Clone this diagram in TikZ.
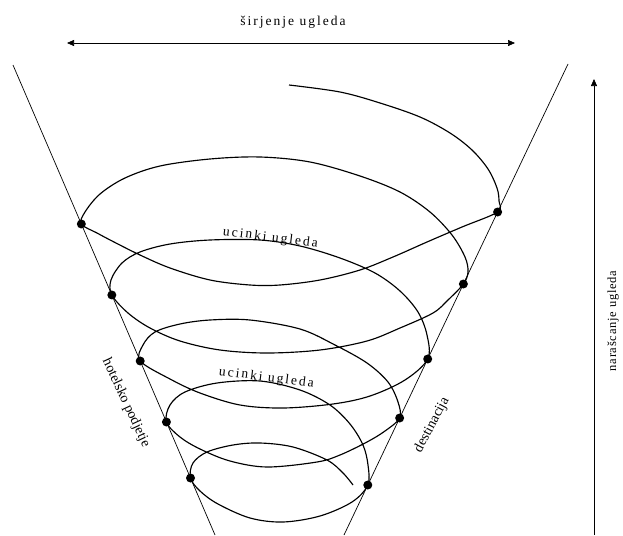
\documentclass[tikz,border=0pt]{standalone}
\usepackage{fontspec}
\setmainfont{Liberation Serif}
\newfontfamily\razfont[LetterSpace=15]{Liberation Serif}
\newfontfamily\rastfont[LetterSpace=6]{Liberation Serif}
\usetikzlibrary{arrows.meta,calc}

\begin{document}
\begin{tikzpicture}[x=1pt,y=-1pt,>={Triangle[length=7pt,width=6pt]}]
    \useasboundingbox (0,0) rectangle (623,535);
    % stozec
    \coordinate (LT) at (13,65);
    \coordinate (LB) at (215,535);
    \coordinate (RT) at (568,64);
    \coordinate (RB) at (344,535);
    \draw[line width=0.7pt] (LT) -- (LB);
    \draw[line width=0.7pt] (RT) -- (RB);
    \foreach \y [count=\i] in {224,295,361,422,478}
      \coordinate (L\i) at ($(LT)!{(\y-65)/470}!(LB)$);
    \foreach \y [count=\i] in {212,284,359,418,485}
      \coordinate (R\i) at ($(RT)!{(\y-64)/471}!(RB)$);
    % spirala
    \draw[line width=1.15pt] plot[smooth,tension=0.55] coordinates {
      (289,85) (340,92) (380,103) (420,117) (450,133) (472,150) (488,169) (497,188) (499,201) (R1)
      (462,227) (427,242) (393,257) (360,270) (320,280) (280,285) (250,285) (210,280) (170,268) (140,255) (114,242) (97,233) (L1)
      (85,212) (100,194) (125,178) (160,166) (210,159) (260,157) (310,162) (360,176) (400,192) (430,212) (452,235) (465,257) (468,272) (R2)
      (448,300) (433,313) (400,328) (367,341) (320,350) (267,353) (220,350) (180,341) (150,328) (128,313) (L2)
      (111,280) (122,263) (140,252) (170,244) (210,240) (260,240) (300,246) (340,258) (375,273) (400,291) (418,312) (427,335) (R3)
      (405,380) (370,396) (333,404) (283,408) (240,405) (200,393) (170,379) (L3)
      (143,345) (155,332) (180,324) (210,320) (250,320) (300,329) (335,345) (367,363) (388,382) (398,402) (R4)
      (385,431) (367,442) (340,455) (317,462) (267,467) (230,461) (200,449) (180,437) (L4)
      (170,405) (185,392) (217,383) (260,381) (300,390) (330,405) (350,424) (363,445) (368,465) (R5)
      (352,502) (320,516) (283,522) (250,518) (218,504) (200,491) (L5)
      (193,463) (207,452) (233,445) (260,443) (293,447) (327,460) (343,473) (353,485)};
    \foreach \i in {1,...,5}{\fill (L\i) circle (4.5); \fill (R\i) circle (4.5);}
    % sirjenje
    \coordinate (SL) at (67,43);
    \coordinate (SD) at (515,43);
    \draw[<->,line width=0.7pt] (SL) -- (SD);
    \node[font=\razfont\fontsize{13.5}{15}\selectfont] (sirjenje) at (293,22) {širjenje ugleda};
    % narascanje
    \coordinate (NS) at (594,535);
    \coordinate (NZ) at (594,79);
    \draw[->,line width=0.7pt] (NS) -- (NZ);
    \node[font=\rastfont\fontsize{12.5}{14}\selectfont,rotate=90] (naras) at (613,321) {narašcanje ugleda};
    % oznake
    \node[font=\razfont\fontsize{13.5}{15}\selectfont,rotate=-7,anchor=base] (ucinki1) at (270,241) {ucinki ugleda};
    \node[font=\razfont\fontsize{13.5}{15}\selectfont,rotate=-7,anchor=base] (ucinki2) at (266,381) {ucinki ugleda};
    \node[font=\fontsize{14}{16}\selectfont,rotate=-65] (hotel) at (126,403) {hotelsko podjetje};
    \node[font=\fontsize{14}{16}\selectfont,rotate=62] (dest) at (432,425) {destinacija};
\end{tikzpicture}
\end{document}
